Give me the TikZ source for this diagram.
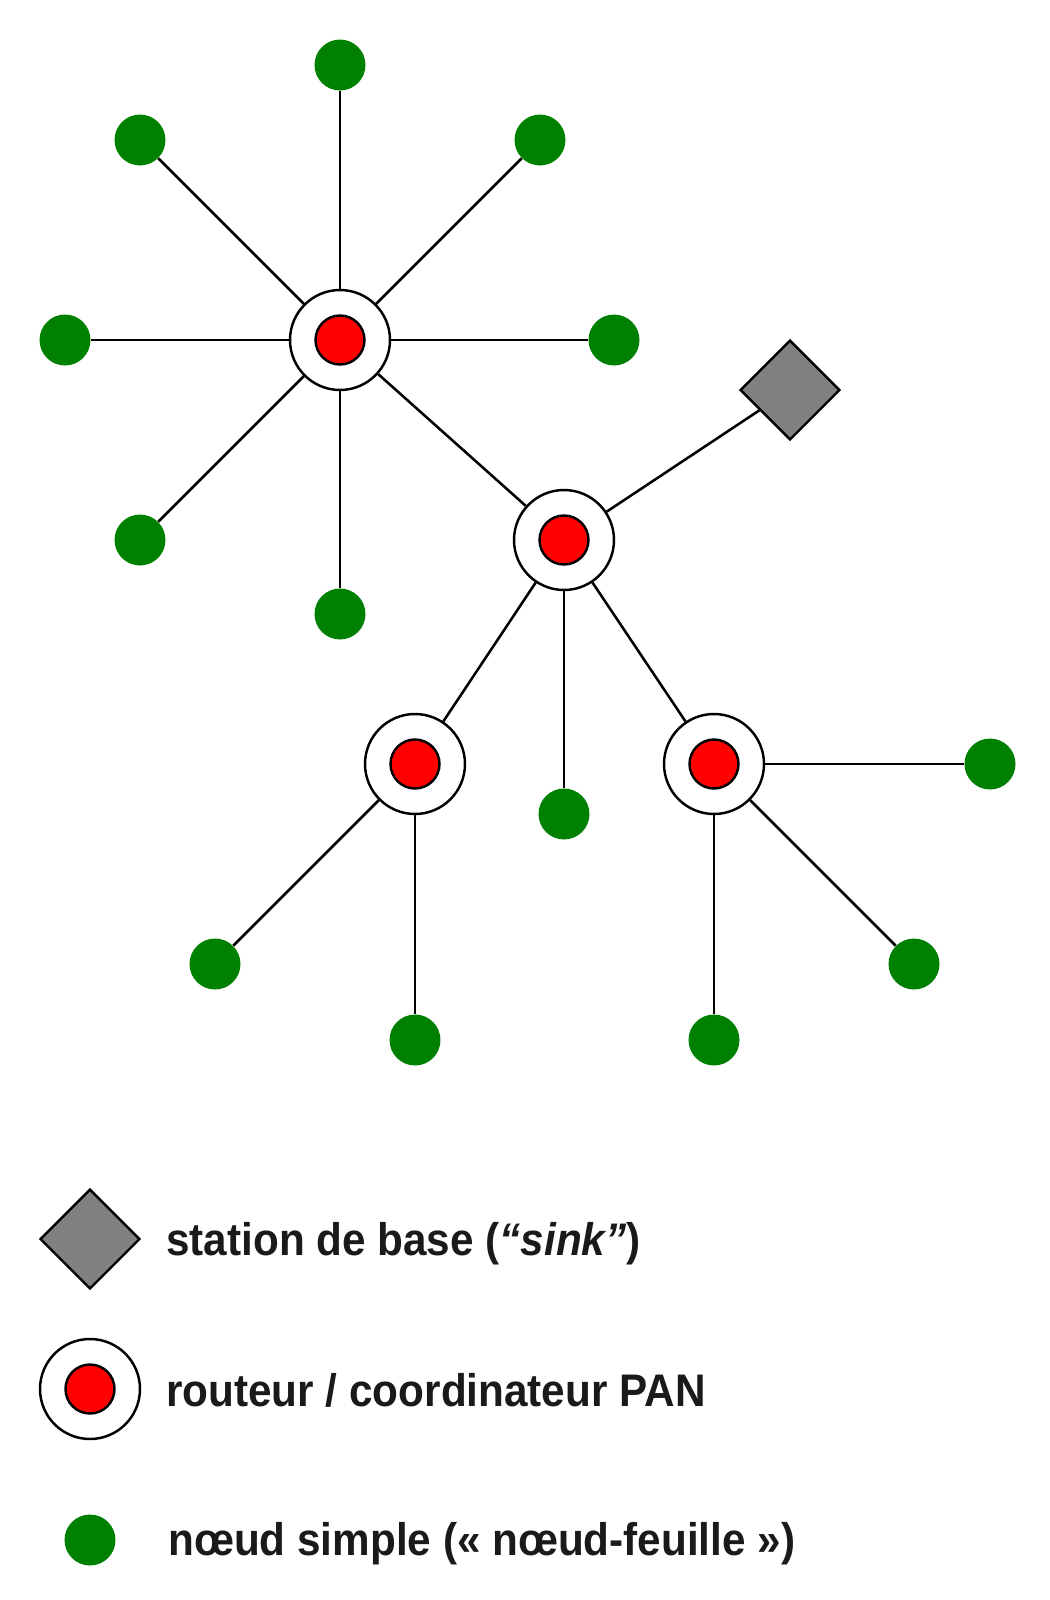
\documentclass[tikz,border=0pt]{standalone}
\usepackage{fontspec}
\setmainfont{Liberation Sans}[FakeStretch=0.925]
\usetikzlibrary{shapes.geometric}
\definecolor{leafgreen}{HTML}{008000}
\definecolor{textgray}{HTML}{1A1A1A}
\tikzset{
  router/.style={circle, draw=black, line width=1.4pt, fill=white, minimum size=2cm, inner sep=0pt},
  core/.style={circle, draw=black, line width=1.4pt, fill=red, minimum size=0.98cm, inner sep=0pt},
  leaf/.style={circle, fill=leafgreen, minimum size=1.02cm, inner sep=0pt},
  sink/.style={diamond, draw=black, line width=1.4pt, fill=gray, minimum width=2cm, minimum height=2cm, inner sep=0pt, aspect=1},
  link/.style={line width=1.45pt},
  legendtext/.style={anchor=base west, text=textgray, font=\fontsize{26}{30}\selectfont\bfseries, inner sep=0pt}
}
\begin{document}
\begin{tikzpicture}[x=0.02cm,y=-0.02cm]
  \useasboundingbox (0,0) rectangle (1050,1600);

  % routers
  \node[router] (rA) at (340,340) {};
  \node[router] (rB) at (564,540) {};
  \node[router] (rC) at (415,764) {};
  \node[router] (rD) at (714,764) {};
  \foreach \r in {rA,rB,rC,rD}
    \node[core] at (\r) {};

  % base station
  \node[sink] (bs) at (790,390) {};

  % leaves
  \foreach \n/\x/\y in {a1/340/65, a2/140/140, a3/540/140, a4/65/340, a5/614/340, a6/140/540, a7/340/614}
    \node[leaf] (\n) at (\x,\y) {};
  \node[leaf] (b1) at (564,814) {};
  \foreach \n/\x/\y in {c1/215/964, c2/415/1040}
    \node[leaf] (\n) at (\x,\y) {};
  \foreach \n/\x/\y in {d1/990/764, d2/914/964, d3/714/1040}
    \node[leaf] (\n) at (\x,\y) {};

  % links
  \foreach \n in {a1,a2,a3,a4,a5,a6,a7}
    \draw[link] (rA) -- (\n);
  \draw[link] (rA) -- (rB);
  \draw[link] (rB) -- (bs);
  \draw[link] (rB) -- (b1);
  \draw[link] (rB) -- (rC);
  \draw[link] (rB) -- (rD);
  \draw[link] (rC) -- (c1);
  \draw[link] (rC) -- (c2);
  \draw[link] (rD) -- (d1);
  \draw[link] (rD) -- (d2);
  \draw[link] (rD) -- (d3);

  % legend
  \node[sink] (keybs) at (90,1239) {};
  \node[legendtext] (txtbs) at (166,1255) {station de base (\textit{“sink”})};
  \node[router] (keyr) at (90,1389) {};
  \node[core] at (keyr) {};
  \node[legendtext] (txtr) at (166,1406) {routeur / coordinateur PAN};
  \node[leaf] (keyl) at (90,1540) {};
  \node[legendtext] (txtl) at (168,1555) {nœud simple (« nœud-feuille »)};
\end{tikzpicture}
\end{document}
